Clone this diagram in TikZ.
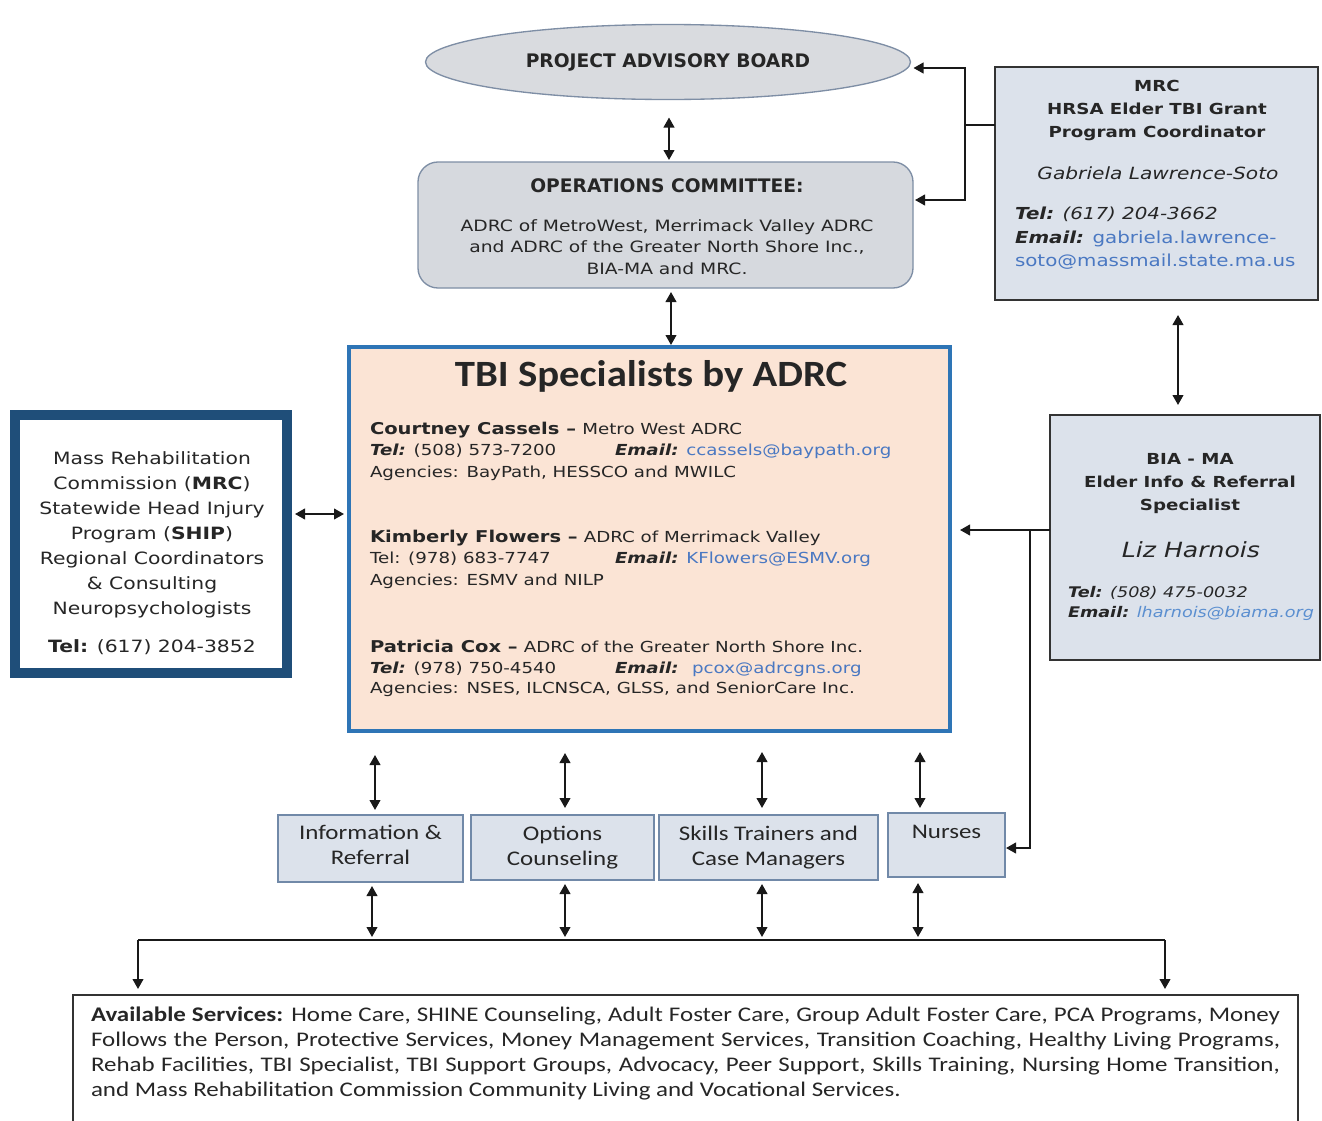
\documentclass[tikz,border=0pt]{standalone}
\usepackage{fontspec}
\setmainfont{DejaVu Sans}
\newfontfamily\vf[FakeStretch=1.2]{DejaVu Sans}
\newfontfamily\cf[FakeStretch=1.2]{Carlito}
\newfontfamily\ctf[FakeStretch=1.1]{Carlito}
\usetikzlibrary{arrows.meta,calc,shapes.geometric}
\definecolor{txt}{HTML}{262626}
\definecolor{mail}{HTML}{4A78C2}
\definecolor{mailb}{HTML}{5B8FD0}
\definecolor{ellfill}{HTML}{D9DBDF}
\definecolor{ellline}{HTML}{7E8EA5}
\definecolor{opsfill}{HTML}{D6D9DE}
\definecolor{boxfill}{HTML}{DCE2EB}
\definecolor{smallline}{HTML}{7189A8}
\definecolor{peach}{HTML}{FBE4D5}
\definecolor{tbiline}{HTML}{2E75B6}
\definecolor{navy}{HTML}{1F4E79}
\newcommand\myfs[2]{\fontsize{#1}{#2}\selectfont}
\tikzset{
  conn/.style={line width=1.5pt, draw=black!90},
  arr/.style={-{Triangle[length=7.5pt,width=8pt]}},
  biarr/.style={{Triangle[length=7.5pt,width=8pt]}-{Triangle[length=7.5pt,width=8pt]}},
  boxbase/.style={draw, rectangle, outer sep=0pt, inner sep=0pt},
  smallbox/.style={boxbase, fill=boxfill, draw=smallline, line width=1.1pt,
     text=txt, align=center, font=\cf\myfs{15.6}{18.75}},
  lbl/.style={inner sep=0pt, outer sep=0pt, text=txt},
  tbitxt/.style={lbl, anchor=base west, font=\vf\myfs{11.4}{16}},
  tbiname/.style={lbl, anchor=base west, font=\vf\myfs{12.2}{16}},
}
\begin{document}
\begin{tikzpicture}[x=0.75pt,y=-0.75pt]
\clip (0,0) rectangle (1322,1121);
\fill[white] (0,0) rectangle (1322,1121);

% ---------- boxes ----------
\node[ellipse, draw=ellline, fill=ellfill, line width=1pt, outer sep=0pt, inner sep=0pt,
      minimum width=363.75pt, minimum height=56.25pt, text=txt,
      font=\bfseries\myfs{14}{16}] (pab) at (668,62) {PROJECT ADVISORY BOARD};

\node[boxbase, draw=ellline, fill=opsfill, line width=1pt, rounded corners=15pt,
      minimum width=371.25pt, minimum height=94.5pt] (ops) at (665.5,225) {};
\node[lbl, font=\bfseries\myfs{14}{16}] (opsT) at (667,186) {OPERATIONS COMMITTEE:};
\node[lbl, align=center, font=\vf\myfs{11.7}{16.1}] (opsB) at (667,247)
  {ADRC of MetroWest, Merrimack Valley ADRC\\and ADRC of the Greater North Shore Inc.,\\BIA-MA and MRC.};

\node[boxbase, draw=black!80, fill=boxfill, line width=1.2pt,
      minimum width=242.25pt, minimum height=174.75pt] (mrc) at (1156.5,183.5) {};
\node[lbl, align=center, font=\vf\bfseries\myfs{11.4}{17.25}] (mrcH) at (1157,110.5)
  {MRC\\HRSA Elder TBI Grant\\Program Coordinator};
\node[lbl, font=\vf\itshape\myfs{12.6}{16}] (mrcN) at (1158,173) {Gabriela Lawrence-Soto};
\node[lbl, anchor=base west, font=\vf\itshape\myfs{12.4}{16}] (mrcTel) at (1015,219)
  {\textbf{Tel:} (617) 204-3662};
\node[lbl, anchor=base west, font=\vf\myfs{12.4}{16}] (mrcMail) at (1015,243)
  {\textbf{\textit{Email:}} \textcolor{mail}{gabriela.lawrence-}};
\node[lbl, anchor=base west, font=\vf\myfs{12.4}{16}, text=mail] (mrcMail2) at (1015,266)
  {soto@massmail.state.ma.us};

\node[boxbase, draw=black!80, fill=boxfill, line width=1.2pt,
      minimum width=202.5pt, minimum height=183.75pt] (bia) at (1185,537.5) {};
\node[lbl, align=center, font=\vf\bfseries\myfs{11.4}{17.25}] (biaH) at (1190,483.5)
  {BIA - MA\\Elder Info \& Referral\\Specialist};
\node[lbl, font=\vf\itshape\myfs{15.7}{18}] (biaN) at (1191,550) {Liz Harnois};
\node[lbl, anchor=base west, font=\vf\itshape\myfs{11}{14}] (biaTel) at (1068,597.5)
  {\textbf{Tel:} (508) 475-0032};
\node[lbl, anchor=base west, font=\vf\itshape\myfs{11}{14}] (biaMail) at (1068,617.5)
  {\textbf{Email:} \textcolor{mailb}{lharnois@biama.org}};

\node[boxbase, draw=navy, fill=white, line width=7.5pt,
      minimum width=204pt, minimum height=193.5pt] (left) at (151,544) {};
\node[lbl, align=center, font=\vf\myfs{12.7}{18.75}] (leftT) at (152,553)
  {Mass Rehabilitation\\Commission (\textbf{MRC})\\Statewide Head Injury\\Program (\textbf{SHIP})\\
   Regional Coordinators\\\& Consulting\\Neuropsychologists\\[9.75pt]\textbf{Tel:} (617) 204-3852};

\node[boxbase, draw=tbiline, fill=peach, line width=3.4pt,
      minimum width=450.75pt, minimum height=288pt] (tbi) at (649.5,539) {};
\node[lbl, font=\ctf\bfseries\myfs{27.8}{30}] (tbiT) at (651,376) {TBI Specialists by ADRC};

\node[tbiname] (n1) at (370,434) {\textbf{Courtney Cassels –} \myfs{11.4}{16}Metro West ADRC};
\node[tbitxt] (t1) at (370,455.5) {\textbf{\textit{Tel:}} (508) 573-7200};
\node[tbitxt] (e1) at (615,455.5) {\textbf{\textit{Email:}} \textcolor{mail}{ccassels@baypath.org}};
\node[tbitxt] (a1) at (370,477.5) {Agencies: BayPath, HESSCO and MWILC};

\node[tbiname] (n2) at (370,542) {\textbf{Kimberly Flowers –} \myfs{11.4}{16}ADRC of Merrimack Valley};
\node[tbitxt] (t2) at (370,563.5) {Tel: (978) 683-7747};
\node[tbitxt] (e2) at (615,563.5) {\textbf{\textit{Email:}} \textcolor{mail}{KFlowers@ESMV.org}};
\node[tbitxt] (a2) at (370,585.5) {Agencies: ESMV and NILP};

\node[tbiname] (n3) at (370,652) {\textbf{Patricia Cox –} \myfs{11.4}{16}ADRC of the Greater North Shore Inc.};
\node[tbitxt] (t3) at (370,673.5) {\textbf{\textit{Tel:}} (978) 750-4540};
\node[tbitxt] (e3) at (615,673.5) {\textbf{\textit{Email:}} \ \textcolor{mail}{pcox@adrcgns.org}};
\node[tbitxt] (a3) at (370,693.5) {Agencies: NSES, ILCNSCA, GLSS, and SeniorCare Inc.};

\node[smallbox, minimum width=138.75pt, minimum height=50.25pt] (info) at (370.5,848.5) {Information \&\\Referral\\[-12.75pt]\mbox{}};
\node[smallbox, minimum width=137.25pt, minimum height=48.75pt] (opt) at (562.5,847.5) {Options\\Counseling};
\node[smallbox, minimum width=164.25pt, minimum height=48.75pt] (skills) at (768.5,847.5) {Skills Trainers and\\Case Managers};
\node[smallbox, minimum width=87.75pt, minimum height=48pt] (nurses) at (946.5,845) {Nurses\\[-4.5pt]\strut};

\node[boxbase, draw=black!80, fill=white, line width=1.2pt,
      minimum width=918.75pt, minimum height=97.5pt] (serv) at (685.5,1060) {};
\node[lbl, anchor=west, align=left, font=\cf\myfs{15.6}{18.75}] (servT) at (91,1053.5)
  {\makebox[891.75pt][s]{\textbf{Available Services:} Home Care, SHINE Counseling, Adult Foster Care, Group Adult Foster Care, PCA Programs, Money}\\
   \makebox[891.75pt][s]{Follows the Person, Protective Services, Money Management Services, Transition Coaching, Healthy Living Programs,}\\
   \makebox[891.75pt][s]{Rehab Facilities, TBI Specialist, TBI Support Groups, Advocacy, Peer Support, Skills Training, Nursing Home Transition,}\\
   and Mass Rehabilitation Commission Community Living and Vocational Services.};

% ---------- connectors ----------
\draw[conn,biarr] ($(pab.south)+(1,18)$) -- ($(ops.north)+(3.5,-2)$);
\draw[conn,biarr] ($(ops.south)+(5.5,4)$) -- ($(tbi.north)+(21.5,-2)$);

\coordinate (j1) at ($(mrc.north west)+(-30,58)$);
\draw[conn] (mrc.west |- j1) -- (j1);
\draw[conn,arr] (j1) |- ($(pab.east)+(3,6)$);
\draw[conn,arr] (j1) |- ($(ops.east)+(2,-25)$);

\draw[conn,biarr] ($(mrc.south)+(21.5,15)$) -- ($(bia.north)+(-7,-10)$);

\draw[conn,biarr] ($(left.east)+(8,-30)$) -- ($(tbi.west)+(-5,-25)$);

\coordinate (j2) at ($(bia.west)+(-20,-7.5)$);
\draw[conn] (bia.west |- j2) -- (j2);
\draw[conn,arr] (j2) -- ($(tbi.east |- j2)+(10,0)$);
\draw[conn,arr] (j2) |- ($(nurses.east)+(1,3)$);

\draw[conn,biarr] ($(info.north |- tbi.south)+(4.5,24)$) -- ($(info.north)+(4.5,-5)$);
\draw[conn,biarr] ($(opt.north |- tbi.south)+(2.5,22)$) -- ($(opt.north)+(2.5,-7)$);
\draw[conn,biarr] ($(skills.north |- tbi.south)+(-6.5,21)$) -- ($(skills.north)+(-6.5,-7)$);
\draw[conn,biarr] ($(nurses.north |- tbi.south)+(-26.5,21)$) -- ($(nurses.north)+(-26.5,-5)$);

\coordinate (busL) at ($(serv.north west)+(65,-55)$);
\coordinate (busR) at ($(serv.north east)+(-133,-55)$);
\draw[conn] (busL) -- (busR);
\draw[conn,arr] (busL) -- ($(serv.north -| busL)+(0,-6)$);
\draw[conn,arr] (busR) -- ($(serv.north -| busR)+(0,-6)$);

\draw[conn,biarr] ($(info.south)+(1.5,4)$) -- ($(info.south |- busL)+(1.5,-3)$);
\draw[conn,biarr] ($(opt.south)+(2.5,4)$) -- ($(opt.south |- busL)+(2.5,-3)$);
\draw[conn,biarr] ($(skills.south)+(-6.5,4)$) -- ($(skills.south |- busL)+(-6.5,-3)$);
\draw[conn,biarr] ($(nurses.south)+(-28.5,6)$) -- ($(nurses.south |- busL)+(-28.5,-3)$);
\end{tikzpicture}
\end{document}
